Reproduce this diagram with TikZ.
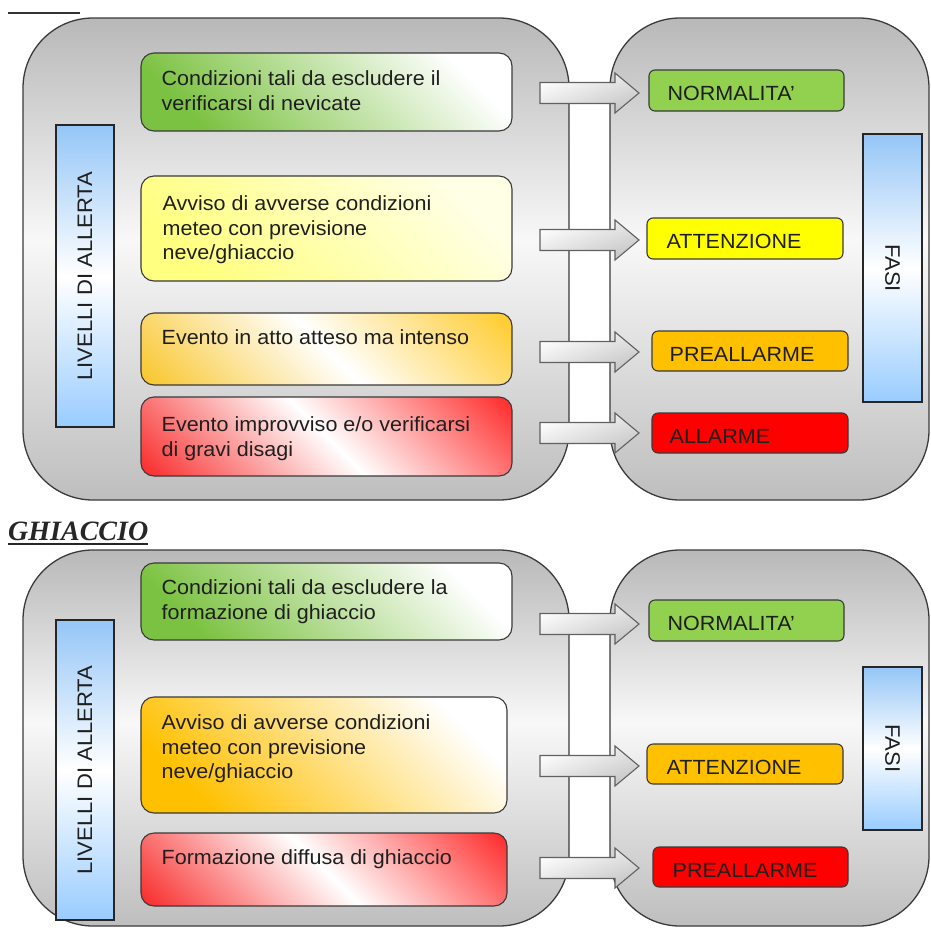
\documentclass[tikz,border=0pt]{standalone}
\usepackage{fontspec}
\setmainfont{Liberation Sans}[FakeStretch=1.05]
\newfontfamily\ghfont{Liberation Serif}
\usetikzlibrary{fit}
\definecolor{pgreen}{HTML}{92D050}
\definecolor{lgreen}{HTML}{7CC242}
\definecolor{pyellow}{HTML}{FFFF00}
\definecolor{porange}{HTML}{FFC000}
\definecolor{pred}{HTML}{FF0000}
\definecolor{pblue}{HTML}{99CCFF}
\definecolor{edgecol}{HTML}{3A3A3A}
\definecolor{panelgray}{HTML}{BEBEBE}
\definecolor{panellight}{HTML}{F8F8F8}
\pgfdeclareverticalshading{panelshade}{100bp}{color(0bp)=(panelgray); color(25bp)=(panelgray); color(52bp)=(panellight); color(75bp)=(panelgray!97!black); color(100bp)=(panelgray!97!black)}
\pgfdeclareverticalshading{blueshade}{100bp}{color(0bp)=(pblue); color(25bp)=(pblue); color(50bp)=(white); color(75bp)=(pblue!97!black); color(100bp)=(pblue!97!black)}
\pgfdeclareverticalshading{orangeshade}{100bp}{color(0bp)=(porange); color(8bp)=(porange); color(50bp)=(white); color(92bp)=(porange!97!black); color(100bp)=(porange!97!black)}
\pgfdeclareverticalshading{redshade}{100bp}{color(0bp)=(pred); color(8bp)=(pred); color(50bp)=(white); color(92bp)=(pred!97!black); color(100bp)=(pred!97!black)}
\begin{document}
\begin{tikzpicture}[x=1pt,y=-1pt,
  panel/.style={draw=edgecol, line width=1.3pt, rounded corners=70pt, shading=panelshade, inner sep=0pt},
  bluebox/.style={draw=black!85, line width=1.3pt, shading=blueshade, inner sep=0pt},
  levelbox/.style={draw=edgecol, line width=1.1pt, rounded corners=13pt, inner sep=0pt},
  phasebox/.style={draw=edgecol, line width=1.1pt, rounded corners=6pt, inner sep=0pt},
  txt/.style={inner sep=0pt, align=left, anchor=north west, font=\fontsize{20.5}{24.5}\selectfont, text=black!88},
  stxt/.style={inner sep=0pt, anchor=base west, font=\fontsize{20.5}{25}\selectfont, text=black!88},
  vtxt/.style={inner sep=0pt, font=\fontsize{21}{25}\selectfont, text=black!88},
  blockarrow/.style={draw=edgecol!80, line width=1.1pt, top color=white, bottom color=gray!45, shading angle=20},
  gfill/.style={top color=lgreen, middle color=lgreen!25!white, bottom color=white, shading angle=135},
  yfill/.style={top color=yellow!50, bottom color=yellow!10, shading angle=135},
  ofill2/.style={shading=orangeshade, shading angle=135},
  rfill2/.style={shading=redshade, shading angle=135},
  ofill1/.style={top color=porange, middle color=porange!25!white, bottom color=white, shading angle=135}
]
\useasboundingbox (0,0) rectangle (931,927);

% heading line
\coordinate (u1) at (8,13); \coordinate (u2) at (80,13);
\draw[line width=2pt, black!80] (u1) -- (u2);

% ---------------- top panel ----------------
\node[panel, fit={(23,18) (569,500)}] (L1) {};
\node[panel, fit={(610,18) (929,500)}] (R1) {};

\node[bluebox, fit={(56,125) (114,427)}] (B1) {};
\node[vtxt, rotate=90] (tB1) at (B1.center) {LIVELLI DI ALLERTA};
\node[bluebox, fit={(863,134) (922,402)}] (F1) {};
\node[vtxt, rotate=-90] (tF1) at (F1.center) {FASI};

\node[levelbox, gfill, fit={(141,53) (512,131)}] (G1) {};
\node[txt] (tG1) at ([xshift=21pt,yshift=-18pt]G1.north west) {Condizioni tali da escludere il\\verificarsi di nevicate};
\node[levelbox, yfill, fit={(141,176) (512,281)}] (Y1) {};
\node[txt] (tY1) at ([xshift=22pt,yshift=-20pt]Y1.north west) {Avviso di avverse condizioni\\meteo con previsione\\neve/ghiaccio};
\node[levelbox, ofill2, fit={(141,313) (512,385)}] (O1) {};
\node[txt] (tO1) at ([xshift=21pt,yshift=-17pt]O1.north west) {Evento in atto atteso ma intenso};
\node[levelbox, rfill2, fit={(141,397) (512,476)}] (Rd1) {};
\node[txt] (tRd1) at ([xshift=21pt,yshift=-20pt]Rd1.north west) {Evento improvviso e/o verificarsi\\di gravi disagi};

% ---------------- bottom panel ----------------
\node[inner sep=0pt, anchor=base west, font=\ghfont\bfseries\itshape\fontsize{28}{31}\selectfont, text=black!85] (gh) at (8,540) {GHIACCIO};
\draw[line width=1.8pt, black!85] ([yshift=-4pt]gh.base west) -- ([yshift=-4pt]gh.base east);

\node[panel, fit={(23,550) (569,926)}] (L2) {};
\node[panel, fit={(610,550) (929,926)}] (R2) {};

\node[bluebox, fit={(56,620) (114,920)}] (B2) {};
\node[vtxt, rotate=90] (tB2) at (B2.center) {LIVELLI DI ALLERTA};
\node[bluebox, fit={(863,667) (922,830)}] (F2) {};
\node[vtxt, rotate=-90] (tF2) at (F2.center) {FASI};

\node[levelbox, gfill, fit={(141,563) (512,640)}] (G2) {};
\node[txt] (tG2) at ([xshift=21pt,yshift=-17pt]G2.north west) {Condizioni tali da escludere la\\formazione di ghiaccio};
\node[levelbox, ofill1, fit={(141,697) (507,813)}] (O2) {};
\node[txt] (tO2) at ([xshift=21pt,yshift=-18pt]O2.north west) {Avviso di avverse condizioni\\meteo con previsione\\neve/ghiaccio};
\node[levelbox, rfill2, fit={(141,833) (507,906)}] (Rd2) {};
\node[txt] (tRd2) at ([xshift=21pt,yshift=-17pt]Rd2.north west) {Formazione diffusa di ghiaccio};

% ---------------- block arrows ----------------
\foreach \c in {93,240,352,433,624,766,868} {
  \path[blockarrow] (540,\c-10.5) -- (615,\c-10.5) -- (615,\c-20) -- (639,\c)
     -- (615,\c+20) -- (615,\c+10.5) -- (540,\c+10.5) -- cycle;
}

% ---------------- phase boxes ----------------
\node[phasebox, fill=pgreen, fit={(649,70) (844,111)}] (N1) {};
\node[stxt] (tN1) at ([xshift=19pt,yshift=-10pt]N1.west) {NORMALITA’};
\node[phasebox, fill=pyellow, fit={(647,218) (843,259)}] (A1) {};
\node[stxt] (tA1) at ([xshift=20pt,yshift=-10pt]A1.west) {ATTENZIONE};
\node[phasebox, fill=porange, fit={(652,331) (848,371)}] (P1) {};
\node[stxt] (tP1) at ([xshift=18pt,yshift=-10pt]P1.west) {PREALLARME};
\node[phasebox, fill=pred, fit={(652,413) (848,453)}] (AL1) {};
\node[stxt] (tAL1) at ([xshift=18pt,yshift=-10pt]AL1.west) {ALLARME};

\node[phasebox, fill=pgreen, fit={(649,600) (844,641)}] (N2) {};
\node[stxt] (tN2) at ([xshift=19pt,yshift=-10pt]N2.west) {NORMALITA’};
\node[phasebox, fill=porange, fit={(647,744) (843,784)}] (A2) {};
\node[stxt] (tA2) at ([xshift=20pt,yshift=-10pt]A2.west) {ATTENZIONE};
\node[phasebox, fill=pred, fit={(653,847) (848,887)}] (P2) {};
\node[stxt] (tP2) at ([xshift=20pt,yshift=-10pt]P2.west) {PREALLARME};
\end{tikzpicture}
\end{document}
